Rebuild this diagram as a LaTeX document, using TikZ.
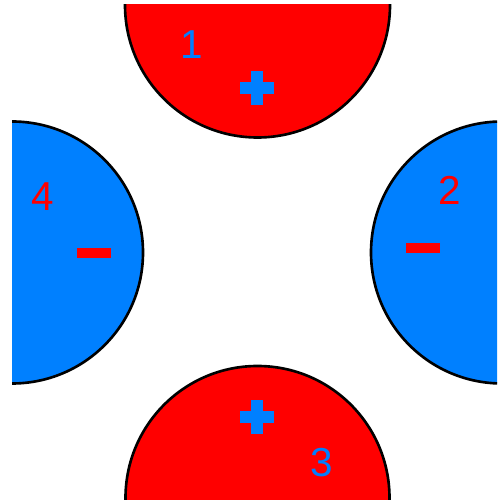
\documentclass[tikz,border=0pt]{standalone}
\usepackage{fontspec}
\setmainfont{Liberation Sans}
\usepackage{tkz-euclide}
\definecolor{PosClr}{RGB}{255,0,0}
\definecolor{NegClr}{RGB}{0,128,255}

\begin{document}
\begin{tikzpicture}[
  numlbl/.style={font=\fontsize{23}{23}\selectfont,inner sep=0pt},
  plussign/.style={line width=0.24cm,color=NegClr},
  minussign/.style={line width=0.2cm,color=PosClr}]
\useasboundingbox (0,0) rectangle (9.94,10);

\tkzDefPoints{5.15/9.9/O1,10.04/4.95/O2,5.15/0.04/O3,0.24/4.95/O4}
\tkzDefPoints{5.14/8.24/S1,8.46/5.04/S2,5.14/1.66/S3,1.88/4.94/S4}

\begin{scope}
\clip (0.24,0) rectangle (9.94,9.9);
\filldraw[fill=PosClr,line width=1.5pt] (O1) circle (2.65);
\filldraw[fill=NegClr,line width=1.5pt] (O2) circle (2.62);
\filldraw[fill=PosClr,line width=1.5pt] (O3) circle (2.64);
\filldraw[fill=NegClr,line width=1.5pt] (O4) circle (2.62);
\end{scope}

% signs
\draw[plussign] (S1) +(-0.34,0) -- +(0.34,0) (S1) +(0,-0.34) -- +(0,0.34);
\draw[plussign] (S3) +(-0.34,0) -- +(0.34,0) (S3) +(0,-0.34) -- +(0,0.34);
\draw[minussign] (S2) +(-0.34,0) -- +(0.34,0);
\draw[minussign] (S4) +(-0.34,0) -- +(0.34,0);

% numbers
\node[numlbl,text=NegClr] (n1) at (3.84,9.1) {1};
\node[numlbl,text=PosClr] (n2) at (9.0,6.2) {2};
\node[numlbl,text=NegClr] (n3) at (6.44,0.74) {3};
\node[numlbl,text=PosClr] (n4) at (0.86,6.06) {4};

\end{tikzpicture}
\end{document}
